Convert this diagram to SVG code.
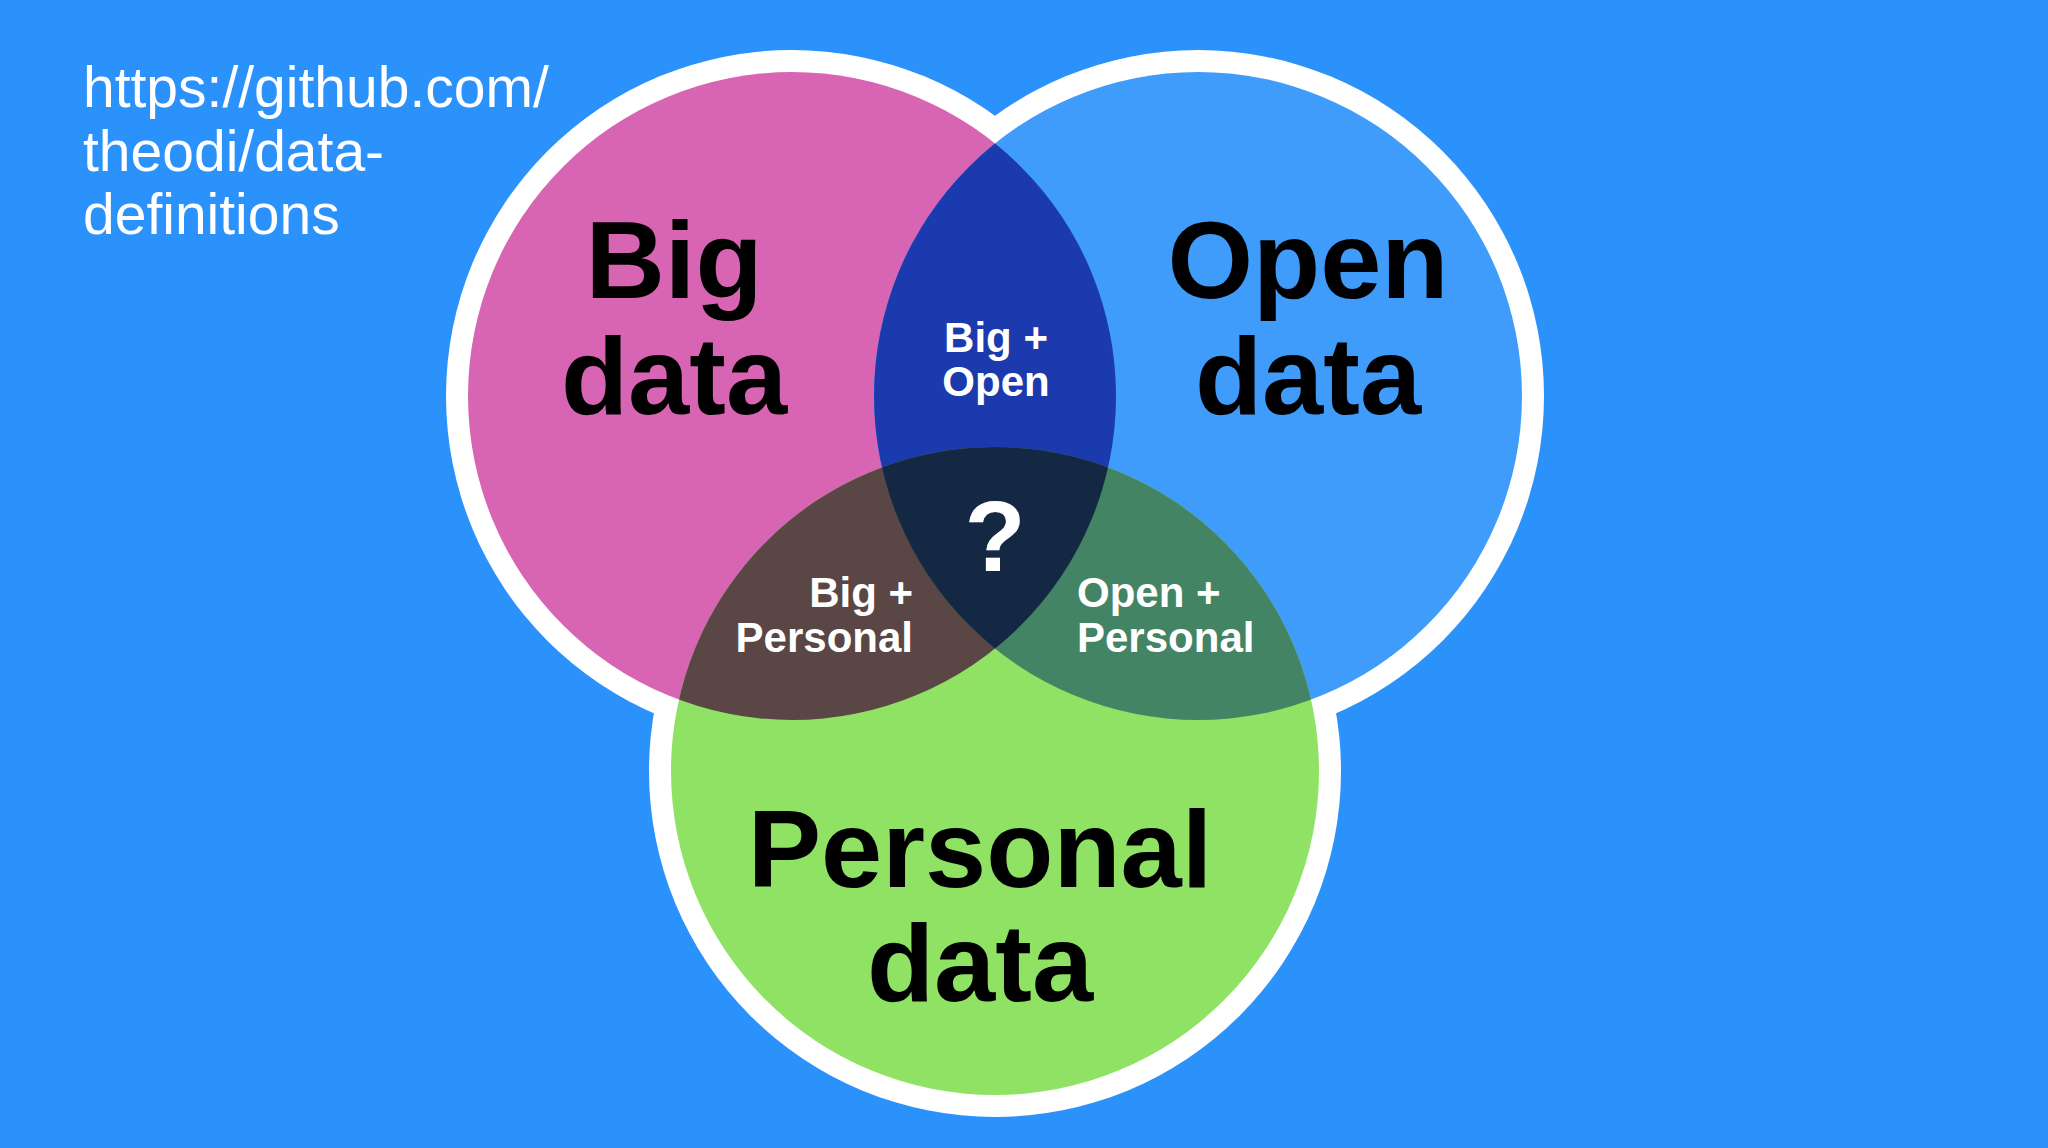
<svg xmlns="http://www.w3.org/2000/svg" width="2048" height="1148" viewBox="0 0 2048 1148">
  <style>
    .big { font-family: "Liberation Sans", Arial, sans-serif; font-weight: bold; font-size: 110px; fill: #000; text-anchor: middle; }
    .small { font-family: "Liberation Sans", Arial, sans-serif; font-weight: bold; font-size: 42px; fill: #fff; }
    .url { font-family: "Liberation Sans", Arial, sans-serif; font-size: 57px; fill: #fff; }
  </style>
  <defs>
    <clipPath id="cBig"><circle cx="792" cy="396" r="324"/></clipPath>
    <clipPath id="cOpen"><circle cx="1198" cy="396" r="324"/></clipPath>
  </defs>
  <rect x="0" y="0" width="2048" height="1148" fill="#2C92FB"/>

  <g id="url-label">
    <text class="url" x="83" y="107">https://github.com/</text>
    <text class="url" x="83" y="171">theodi/data-</text>
    <text class="url" x="83" y="234">definitions</text>
  </g>

  <g id="outline" fill="#fff">
    <circle cx="792" cy="396" r="346"/>
    <circle cx="1198" cy="396" r="346"/>
    <circle cx="995" cy="771" r="346"/>
  </g>

  <g id="big-data">
    <circle cx="792" cy="396" r="324" fill="#D865B3"/>
  </g>
  <g id="open-data">
    <circle cx="1198" cy="396" r="324" fill="#3F9CFA"/>
  </g>
  <g id="personal-data">
    <circle cx="995" cy="771" r="324" fill="#8FE264"/>
  </g>

  <g id="big-open">
    <circle cx="1198" cy="396" r="324" fill="#1B3AAE" clip-path="url(#cBig)"/>
  </g>
  <g id="big-personal">
    <circle cx="995" cy="771" r="324" fill="#5A4644" clip-path="url(#cBig)"/>
  </g>
  <g id="open-personal">
    <circle cx="995" cy="771" r="324" fill="#428464" clip-path="url(#cOpen)"/>
  </g>
  <g id="center">
    <g clip-path="url(#cBig)">
      <circle cx="995" cy="771" r="324" fill="#142843" clip-path="url(#cOpen)"/>
    </g>
  </g>

  <g id="labels">
    <text class="big" x="674" y="298">Big</text>
    <text class="big" x="674" y="414">data</text>
    <text class="big" x="1308" y="298">Open</text>
    <text class="big" x="1308" y="414">data</text>
    <text class="big" x="980" y="887">Personal</text>
    <text class="big" x="980" y="1001">data</text>

    <text class="small" x="996" y="352" text-anchor="middle">Big +</text>
    <text class="small" x="996" y="396" text-anchor="middle">Open</text>

    <text class="small" x="913" y="607" text-anchor="end">Big +</text>
    <text class="small" x="913" y="652" text-anchor="end">Personal</text>

    <text class="small" x="1077" y="607">Open +</text>
    <text class="small" x="1077" y="652">Personal</text>

    <text class="big" x="995" y="571" style="fill:#fff;font-size:100px">?</text>
  </g>
</svg>
